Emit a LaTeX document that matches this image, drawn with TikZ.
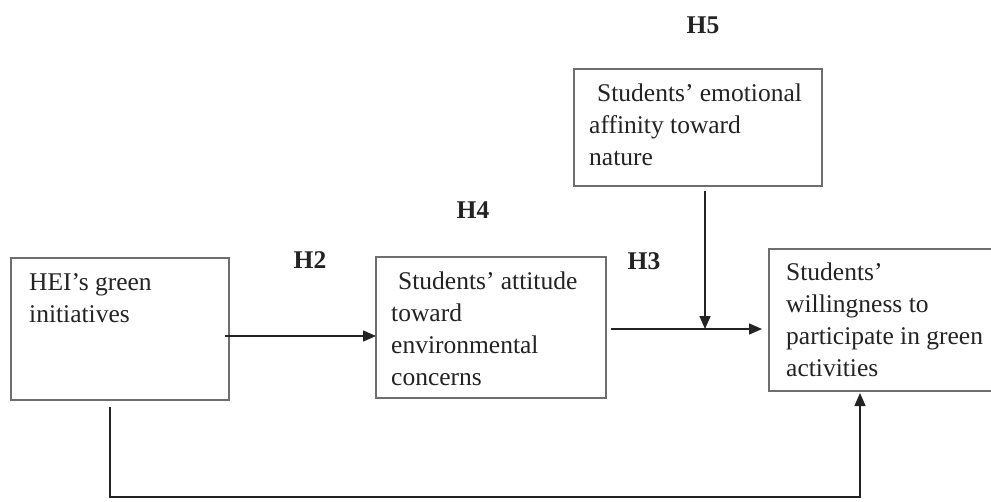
\documentclass[tikz,border=0pt]{standalone}
\usepackage{fontspec}
\setmainfont{Liberation Serif}
\usetikzlibrary{arrows.meta}
\definecolor{boxgray}{RGB}{110,110,110}
\definecolor{inkgray}{RGB}{35,35,35}
\tikzset{
  boxshape/.style={draw=boxgray, line width=2pt, rectangle, inner sep=0pt, outer sep=0pt, anchor=north west},
  boxtext/.style={anchor=north west, inner sep=0pt, align=left, text=inkgray, font=\fontsize{25.5}{32}\selectfont},
  hlabel/.style={anchor=base, inner sep=0pt, text=inkgray, font=\fontsize{25.5}{32}\selectfont\bfseries},
  conn/.style={draw=inkgray, line width=1.5pt, -{Triangle[length=13pt,width=11pt]}}
}
\begin{document}
\begin{tikzpicture}[x=1pt,y=-1pt]
\useasboundingbox (0,0) rectangle (991,501);
\clip (0,0) rectangle (991,501);
\fill[white] (0,0) rectangle (991,501);
% boxes
\node[boxshape, minimum width=218pt, minimum height=142pt] (b1) at (11,258) {};
\node[boxshape, minimum width=230pt, minimum height=141pt] (b2) at (376,257) {};
\node[boxshape, minimum width=248pt, minimum height=117pt] (b3) at (574,69) {};
\node[boxshape, minimum width=231pt, minimum height=142pt] (b4) at (769,249) {};
% texts
\node[boxtext] (t1) at (29,267.6) {\strut HEI’s green\\initiatives};
\node[boxtext] (t2) at (391,266.6) {\strut\hspace*{7pt}Students’ attitude\\toward\\environmental\\concerns};
\node[boxtext] (t3) at (589,78.6) {\strut\hspace*{8pt}Students’ emotional\\affinity toward\\nature};
\node[boxtext] (t4) at (786,257.6) {\strut Students’\\willingness to\\participate in green\\activities};
% hypothesis labels
\node[hlabel] (h2) at (310,268) {H2};
\node[hlabel] (h3) at (644,269) {H3};
\node[hlabel] (h4) at (473,218) {H4};
\node[hlabel] (h5) at (703,33) {H5};
% helper coordinates
\coordinate (r1) at (0,336);
\coordinate (j) at (705,329);
\coordinate (bl) at (110,497);
\coordinate (br) at (860,497);
% connectors
\draw[conn, shorten <=-4pt] (b1.east |- r1) -- (b2.west |- r1);
\draw[conn, shorten <=5pt, shorten >=7pt] (b2.east |- j) -- (b4.west |- j);
\draw[conn, shorten <=5pt] (b3.south -| j) -- (j);
\draw[conn, shorten <=7pt, shorten >=2pt] (b1.south -| bl) -- (bl) -- (br) -- (b4.south -| br);
\end{tikzpicture}
\end{document}
